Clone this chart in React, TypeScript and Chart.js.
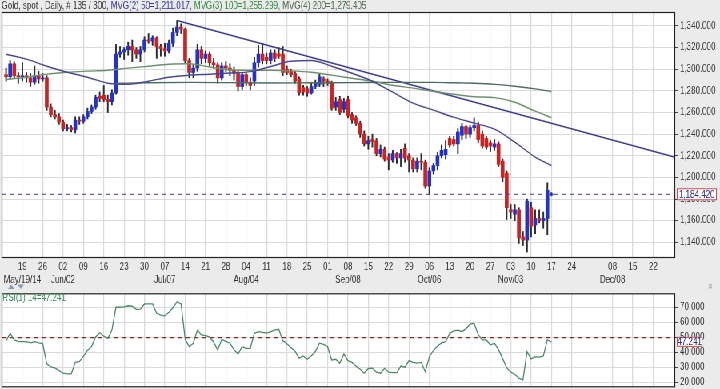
import React, { useEffect, useRef } from 'react';
import { Chart, registerables } from 'chart.js';
Chart.register(...registerables);

const FONT = "'Liberation Sans', Arial, Helvetica, sans-serif";

// ---- daily candles (index 0 = May 13 2014 ... 134 = Nov 17 2014) ----
const open = [1295,1293,1305,1294,1293,1294,1292,1288,1294,1291,1292,1265,1258,1256,1251,1245,1246,1244,1253,1252,1256,1261,1265,1275,1276,1272,1270,1278,1314,1316,1318,1321,1318,1314,1318,1327,1326,1329,1321,1319,1317,1324,1334,1339,1337,1308,1297,1301,1318,1310,1314,1306,1304,1292,1303,1301,1299,1296,1284,1295,1288,1289,1306,1314,1311,1308,1315,1314,1314,1300,1298,1296,1291,1283,1282,1278,1284,1286,1291,1289,1287,1265,1272,1263,1272,1258,1255,1250,1240,1231,1235,1234,1222,1226,1219,1216,1222,1218,1227,1220,1216,1208,1215,1214,1192,1206,1211,1220,1221,1236,1235,1231,1239,1247,1240,1246,1248,1240,1236,1232,1228,1231,1215,1204,1170,1166,1170,1145,1142,1172,1156,1162,1160,1162,1183.8];
const high = [1301,1308,1307,1297,1306,1297,1296,1303,1298,1296,1294,1268,1262,1259,1253,1249,1248,1256,1256,1258,1264,1267,1276,1279,1285,1276,1281,1323,1321,1320,1325,1327,1320,1321,1330,1333,1331,1330,1323,1324,1327,1338,1345,1342,1338,1310,1304,1323,1321,1317,1316,1310,1306,1306,1307,1305,1302,1298,1297,1297,1292,1311,1322,1324,1315,1318,1318,1320,1321,1303,1300,1298,1293,1285,1284,1287,1290,1296,1293,1291,1289,1274,1275,1273,1275,1260,1257,1252,1243,1238,1240,1236,1230,1228,1222,1225,1223,1226,1231,1222,1218,1218,1222,1216,1209,1213,1223,1230,1234,1238,1238,1245,1250,1248,1248,1255,1251,1243,1238,1234,1235,1233,1217,1206,1175,1175,1172,1150,1180,1177,1170,1170,1168,1195,1186];
const low = [1289,1291,1292,1287,1289,1288,1284,1286,1287,1289,1262,1256,1254,1249,1243,1243,1242,1241,1249,1250,1254,1259,1263,1270,1270,1260,1267,1277,1311,1309,1313,1307,1310,1307,1316,1324,1322,1310,1312,1312,1315,1321,1331,1333,1306,1292,1292,1298,1305,1306,1303,1301,1287,1290,1298,1294,1290,1280,1281,1285,1281,1285,1302,1305,1305,1305,1307,1310,1294,1295,1293,1287,1276,1276,1275,1277,1282,1284,1284,1285,1262,1262,1258,1260,1255,1250,1248,1237,1229,1226,1228,1220,1219,1215,1207,1214,1213,1210,1214,1205,1205,1205,1207,1190,1184,1203,1207,1218,1217,1228,1229,1222,1235,1236,1237,1243,1232,1227,1226,1224,1225,1210,1196,1161,1162,1160,1139,1137,1131,1145,1148,1158,1153,1147,1183];
const close = [1293,1305,1294,1293,1294,1292,1288,1294,1291,1292,1265,1258,1256,1251,1245,1246,1244,1253,1252,1256,1261,1265,1274,1273,1272,1270,1278,1314,1316,1318,1321,1318,1314,1318,1327,1326,1329,1321,1319,1317,1324,1334,1339,1337,1308,1297,1301,1318,1310,1314,1306,1304,1292,1303,1301,1299,1296,1284,1295,1288,1285,1306,1314,1308,1308,1315,1310,1312,1297,1297,1295,1289,1278,1279,1278,1284,1288,1293,1289,1287,1264,1270,1260,1270,1257,1253,1250,1240,1231,1234,1233,1222,1226,1217,1216,1222,1218,1222,1218,1216,1208,1215,1214,1192,1206,1211,1220,1225,1226,1230,1231,1242,1247,1240,1246,1248,1235,1229,1228,1229,1231,1212,1200,1172,1168,1170,1144,1142,1178,1155,1162,1160,1162,1188,1184.42];

// ---- RSI(14) read per day ----
const rsi = [47.8,52.9,48.5,47.5,47.3,47.3,46.5,47.3,46.5,46.0,32.5,30.5,29.8,28.0,26.3,25.8,25.8,33.5,34.0,37.5,41.5,44.0,50.5,53.3,51.0,49.6,55.1,70.3,70.3,70.5,71.3,71.0,68.9,69.0,72.5,72.5,72.5,66.3,65.0,64.5,67.0,70.0,74.0,72.5,49.0,44.0,46.3,55.1,51.8,51.3,50.5,47.0,41.8,48.9,47.5,46.3,42.0,39.1,44.0,42.9,42.9,52.9,54.0,53.5,53.0,54.0,55.0,55.6,48.0,46.0,43.5,41.0,36.3,37.8,35.6,38.0,40.7,46.3,45.5,44.0,35.1,35.6,32.9,39.1,34.7,33.5,31.0,28.9,26.3,29.5,29.6,27.0,26.3,29.6,27.0,26.7,26.7,31.1,30.3,34.7,33.5,33.0,33.5,27.3,37.3,41.5,44.5,46.5,47.3,52.9,54.5,55.0,54.0,56.0,59.0,59.6,52.0,48.5,48.5,45.1,46.3,42.0,36.0,30.0,27.0,25.6,23.0,21.8,40.7,35.8,37.3,37.0,37.8,48.5,47.241];

// ---- moving averages ----
const ma50Idx = [0,5,10,15,20,25,30,35,40,45,50,55,60,65,70,75,80,85,90,95,100,105,110,115,120,125,130,134];
const ma50 = [1313.9,1309.3,1302.8,1297.2,1292.6,1287.1,1286.1,1288.9,1292.6,1294.5,1295.4,1296.5,1297.8,1302.5,1307.4,1308.0,1302.8,1296.3,1288.9,1278.8,1268.6,1262.2,1255.7,1250.2,1244.6,1232.6,1218.8,1211.017];
const ma100Idx = [0,5,10,15,20,25,30,35,40,45,50,55,60,65,70,75,80,85,90,95,100,105,110,115,120,125,130,134];
const ma100 = [1290.5,1292.6,1295.5,1297.2,1298.2,1299.0,1301.0,1302.8,1304.6,1305.0,1302.0,1299.5,1299.0,1299.0,1298.5,1297.2,1294.5,1291.7,1288.9,1285.2,1282.5,1279.7,1276.9,1274.6,1273.7,1269.5,1261.2,1255.299];
const ma200Idx = [27,35,45,55,65,75,85,95,105,110,115,120,125,130,134];
const ma200 = [1287.0,1287.5,1287.8,1287.6,1287.3,1287.5,1287.6,1287.8,1287.8,1287.5,1287.0,1286.0,1284.2,1281.8,1279.405];

// ---- trend line and last values ----
const trendIdx = [42, 164.4];
const trendVal = [1345.0, 1218.6];
const lastPrice = 1184.42;
const lastRsi = 47.241;

// ---- axes ----
const tickIdx = [4,9,14,19,24,29,34,39,44,49,54,59,64,69,74,79,84,89,94,99,104,109,114,119,124,129,134,139,149,154,159];
const dayLabels = ['19','26','02','09','16','23','30','07','14','21','28','04','11','18','25','01','08','15','22','29','06','13','20','27','03','10','17','24','08','15','22'];
const monthLabels = ['May/19/14','','Jun/02','','','','','Jul/07','','','','Aug/04','','','','','Sep/08','','','','Oct/06','','','','Nov/03','','','','Dec/08','',''];
const priceTicks = [1140,1160,1180,1200,1220,1240,1260,1280,1300,1320,1340];
const rsiTicks = [20,30,40,50,60,70];

const X_MIN = -1.1, X_MAX = 164.4;
const P_MIN = 1125.5, P_MAX = 1352.9;
const R_MIN = 16.9, R_MAX = 79.6;

const BG = '#ebebeb';
const GRID = '#dadada';
const UP = '#2233cc';
const DOWN = '#cc2222';
const C50 = '#4a4a92';
const C100 = '#6f906f';
const C200 = '#4f6a5e';

const fmt3 = (v: number) => v.toLocaleString('en-US', { minimumFractionDigits: 3, maximumFractionDigits: 3 });

const titleParts: [string, string][] = [
  ['Gold, spot , Daily, # 135 / 300, ', '#333333'],
  [`MVG(2) 50=${fmt3(ma50[ma50.length - 1])}, `, '#3a3a9a'],
  [`MVG(3) 100=${fmt3(ma100[ma100.length - 1])}, `, '#2f8a3f'],
  [`MVG(4) 200=${fmt3(ma200[ma200.length - 1])}`, '#4a6a55'],
];

const xScale = (show: boolean) => ({
  type: 'linear', min: X_MIN, max: X_MAX, offset: false,
  afterBuildTicks: (s: any) => { s.ticks = tickIdx.map((v) => ({ value: v })); },
  afterFit: (s: any) => { s.height = show ? 32 : 0; s.paddingLeft = 0; s.paddingRight = 0; },
  ticks: {
    display: show, autoSkip: false, maxRotation: 0, minRotation: 0, padding: 3, color: '#333',
    font: { family: FONT, size: 10, lineHeight: 1.3 },
    callback: (_v: any, k: number) => [dayLabels[k], monthLabels[k]],
  },
  grid: { color: GRID, lineWidth: 1.25, drawTicks: false, offset: false },
  border: { display: false },
});

const yScale = (min: number, max: number, ticks: number[]) => ({
  type: 'linear', position: 'right', min, max,
  afterBuildTicks: (s: any) => { s.ticks = ticks.map((v) => ({ value: v })); },
  afterFit: (s: any) => { s.width = 56; s.paddingTop = 0; s.paddingBottom = 0; },
  ticks: { padding: 2, color: '#333', font: { family: FONT, size: 10 }, callback: (v: any) => fmt3(Number(v)) },
  grid: { color: GRID, lineWidth: 1, drawTicks: true, tickLength: 4, tickColor: '#444' },
  border: { display: false },
});

const frame = (chart: any) => {
  const { ctx, chartArea: a, width, height } = chart;
  ctx.save();
  ctx.fillStyle = BG;
  ctx.fillRect(0, 0, width, height);
  ctx.fillStyle = '#ffffff';
  ctx.fillRect(a.left, a.top, a.right - a.left, a.bottom - a.top);
  ctx.restore();
};

const border = (ctx: any, a: any) => {
  ctx.strokeStyle = '#222';
  ctx.lineWidth = 1.2;
  ctx.strokeRect(a.left + 0.5, a.top + 0.5, a.right - a.left - 1, a.bottom - a.top - 1);
};

const valueBox = (ctx: any, x: number, y: number, w: number, h: number, text: string) => {
  ctx.fillStyle = '#ffffff';
  ctx.fillRect(x, y - h / 2, w, h);
  ctx.strokeStyle = '#d04848';
  ctx.lineWidth = 1;
  ctx.strokeRect(x + 0.5, y - h / 2 + 0.5, w - 1, h - 1);
  ctx.fillStyle = '#2a2a90';
  ctx.font = `10px ${FONT}`;
  ctx.textAlign = 'center';
  ctx.textBaseline = 'middle';
  ctx.fillText(text, x + w / 2, y + 0.5);
};

const mainDeco = {
  id: 'mainDeco',
  beforeDraw: frame,
  afterDraw(chart: any) {
    const { ctx, chartArea: a } = chart;
    ctx.save();
    border(ctx, a);
    ctx.font = `10px ${FONT}`;
    ctx.textAlign = 'left';
    ctx.textBaseline = 'alphabetic';
    let x = 2;
    for (const [t, c] of titleParts) {
      ctx.fillStyle = c;
      ctx.fillText(t, x, 8.5);
      x += ctx.measureText(t).width;
    }
    const y = chart.scales.y.getPixelForValue(lastPrice);
    valueBox(ctx, a.right + 2, y, 50, 12, fmt3(lastPrice));
    // panel arrows and close mark
    ctx.fillStyle = '#8a9ab8';
    ctx.beginPath(); ctx.moveTo(10, 289); ctx.lineTo(18, 289); ctx.lineTo(14, 284.5); ctx.closePath(); ctx.fill();
    ctx.beginPath(); ctx.moveTo(22, 284.5); ctx.lineTo(30, 284.5); ctx.lineTo(26, 289); ctx.closePath(); ctx.fill();
    ctx.fillStyle = '#8a96aa';
    ctx.font = `11px ${FONT}`;
    ctx.textAlign = 'center';
    ctx.textBaseline = 'middle';
    ctx.fillText('\u00d7', 888, 286.5);
    ctx.restore();
  },
};

const rsiDeco = {
  id: 'rsiDeco',
  beforeDraw: frame,
  afterDraw(chart: any) {
    const { ctx, chartArea: a } = chart;
    ctx.save();
    border(ctx, a);
    ctx.font = `10px ${FONT}`;
    ctx.fillStyle = '#3a8a5a';
    ctx.textAlign = 'left';
    ctx.textBaseline = 'middle';
    ctx.fillText(`RSI(1) 14=${fmt3(lastRsi)}`, a.left + 1, a.top + 5);
    const y = chart.scales.y.getPixelForValue(lastRsi);
    valueBox(ctx, a.right + 2, y, 32, 10, fmt3(lastRsi).replace(/0$/, ''));
    ctx.restore();
  },
};

export default function App() {
  const mainRef = useRef<HTMLCanvasElement>(null);
  const rsiRef = useRef<HTMLCanvasElement>(null);

  useEffect(() => {
    document.body.style.margin = '0';
    Chart.defaults.font.family = FONT;
    const idx = close.map((_c, i) => i);
    const bodyColors = close.map((c, i) => (c >= open[i] ? UP : DOWN));
    const lineDs = (xs: number[], ys: number[], color: string, width = 1.4) => ({
      type: 'line', data: xs.map((x, k) => ({ x, y: ys[k] })), borderColor: color, borderWidth: width,
      pointRadius: 0, cubicInterpolationMode: 'monotone', order: 0, fill: false,
    });

    const main = new Chart(mainRef.current as HTMLCanvasElement, {
      type: 'bar',
      data: {
        datasets: [
          lineDs(ma50Idx, ma50, C50),
          lineDs(ma100Idx, ma100, C100),
          lineDs(ma200Idx, ma200, C200),
          { type: 'line', data: trendIdx.map((x, k) => ({ x, y: trendVal[k] })), borderColor: '#3c3c8e', borderWidth: 1.4, pointRadius: 0, order: 0 },
          { type: 'line', data: [{ x: X_MIN, y: lastPrice }, { x: X_MAX, y: lastPrice }], borderColor: '#3a3a86', borderWidth: 1.2, borderDash: [6, 4], pointRadius: 0, order: 0 },
          { type: 'bar', data: idx.map((i) => ({ x: i, y: [open[i], close[i]] })), backgroundColor: bodyColors, barThickness: 4, grouped: false, minBarLength: 1, order: 1 },
          { type: 'bar', data: idx.map((i) => ({ x: i, y: [low[i], high[i]] })), backgroundColor: '#2e2e2e', barThickness: 1.3, grouped: false, order: 2 },
        ],
      } as any,
      options: {
        responsive: false, animation: false, devicePixelRatio: 1, events: [],
        layout: { padding: { left: 2, top: 12, right: 0, bottom: 0 } },
        plugins: { legend: { display: false }, tooltip: { enabled: false }, title: { display: false } },
        scales: { x: xScale(true), y: yScale(P_MIN, P_MAX, priceTicks) } as any,
      },
      plugins: [mainDeco],
    });

    const rsiChart = new Chart(rsiRef.current as HTMLCanvasElement, {
      type: 'line',
      data: {
        datasets: [
          { data: rsi.map((v, i) => ({ x: i, y: v })), borderColor: '#4a8a66', borderWidth: 1.3, pointRadius: 0, fill: false },
          { data: [{ x: X_MIN, y: 50 }, { x: X_MAX, y: 50 }], borderColor: '#8a2222', borderWidth: 1.2, borderDash: [6, 4], pointRadius: 0, fill: false },
        ],
      } as any,
      options: {
        responsive: false, animation: false, devicePixelRatio: 1, events: [],
        layout: { padding: { left: 2, top: 3.3, right: 0, bottom: 1.7 } },
        plugins: { legend: { display: false }, tooltip: { enabled: false }, title: { display: false } },
        scales: { x: xScale(false), y: yScale(R_MIN, R_MAX, rsiTicks) } as any,
      },
      plugins: [rsiDeco],
    });

    return () => { main.destroy(); rsiChart.destroy(); };
  }, []);

  return (
    <div style={{ position: 'fixed', left: 0, top: 0, width: 720, height: 389, overflow: 'hidden', background: BG }}>
      <div style={{ position: 'absolute', left: 0, top: 0, width: 900, height: 389, transform: 'scaleX(0.8)', transformOrigin: '0 0' }}>
        <canvas ref={mainRef} width={900} height={290} style={{ position: 'absolute', left: 0, top: 0 }} />
        <canvas ref={rsiRef} width={900} height={99} style={{ position: 'absolute', left: 0, top: 290 }} />
      </div>
    </div>
  );
}
